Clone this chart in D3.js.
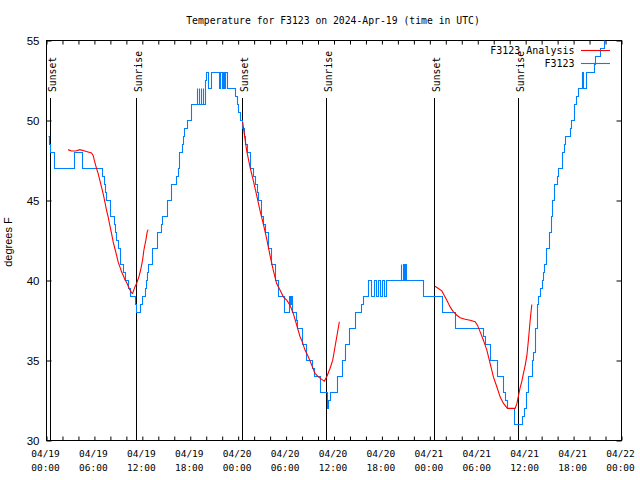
<!DOCTYPE html>
<html><head><meta charset="utf-8">
<script src="https://cdn.jsdelivr.net/npm/d3@7"></script>
<style>body{margin:0;background:#fff} svg{display:block}</style>
</head><body>
<script>
// ---------- data ----------
const chartTitle = "Temperature for F3123 on 2024-Apr-19 (time in UTC)";
const yAxisLabel = "degrees F";
const yTickValues = [30, 35, 40, 45, 50, 55];
const xTickHours = [0, 6, 12, 18, 24, 30, 36, 42, 48, 54, 60, 66, 72];
const xTickDates = ["04/19","04/19","04/19","04/19","04/20","04/20","04/20","04/20","04/21","04/21","04/21","04/21","04/22"];
const xTickTimes = ["00:00","06:00","12:00","18:00","00:00","06:00","12:00","18:00","00:00","06:00","12:00","18:00","00:00"];
const sunLabels = ["Sunset","Sunrise","Sunset","Sunrise","Sunset","Sunrise"];
const sunHours = [0.45, 11.15, 24.5, 35.05, 48.55, 59.05];
const legendNames = ["F3123 Analysis", "F3123"];

// station observations (hours since 04/19 00:00 UTC, degrees F), change points
const stationObs = [
[0.2,49],[0.35,48.5],[0.5,48],[0.95,47],[3.5,48],[4.42,47],[6.97,46.5],[7.15,46],[7.35,45.5],[7.5,45],
[8.0,44],[8.4,43.5],[8.6,43],[8.75,42.5],[8.9,42],[9.2,41],[9.55,40.5],[9.8,40],[10.2,39.5],[10.5,39],
[11.1,38.5],[11.2,38],[11.75,38.5],[12.0,39],[12.3,39.5],[12.45,40],[12.6,40.5],[12.73,41],[13.2,42],[13.86,43],
[14.3,43.5],[14.45,44],[15.15,45],[15.55,45.5],[15.65,46],[16.2,46.5],[16.5,47],[16.62,48],[17.0,48.5],[17.12,49],
[17.25,49.5],[17.55,50],[18.15,51],[18.8,52],[18.9,51],[19.05,52],[19.15,51],[19.3,52],[19.4,51],
[19.55,52],[19.65,51],[19.8,52.5],[19.95,53],[20.25,52],[20.6,53],
[21.65,52],[21.78,53],[21.95,52],[22.08,53],[22.25,52],[22.38,53],[22.6,52],
[23.6,51.5],[23.8,51],[24.0,50.5],[24.2,50],[24.5,49.5],[24.7,49],[24.85,48.5],
[25.05,48],[25.45,47],[25.9,46.5],[26.1,46],[26.3,45.5],[26.5,45],[26.9,44],[27.15,43.5],[27.35,43],[27.75,42],
[28.05,41],[28.6,40],[29.0,39],[29.75,38],[30.35,39],[30.5,38.5],[30.6,39],[30.8,38],[31.2,37.5],[31.4,37],
[31.95,36],[32.5,35],[33.3,34.5],[33.5,34],[34.25,33],[35.1,32],[35.3,32.5],[35.5,33],[36.35,34],[36.95,35],
[37.4,36],[37.9,37],[38.6,38],[39.35,38.5],[39.6,39],[40.3,40],[40.6,39],[41.0,40],[41.3,39],[41.55,40],
[41.8,39],[42.0,40],[42.3,39],[42.55,40],[44.35,41],[44.45,40],[44.65,41],[44.75,40],[44.95,41],[45.05,40],
[47.2,39],[49.5,38],[51.15,37],[54.7,36.5],[54.9,36],[55.5,35],[56.4,34],[57.1,33],[57.4,32.5],[57.7,32],
[58.6,31],[59.55,31.5],[59.75,32],[60.05,33],[60.35,34],[60.75,35],[60.95,35.5],[61.2,37],[61.4,38.5],[61.6,39],
[61.8,39.5],[62.0,40],[62.15,40.5],[62.3,41],[62.6,42],[62.9,43],[63.15,44],[63.3,45],[63.6,46],[63.9,46.5],
[64.1,47],[64.6,48],[64.75,48.5],[64.95,49],[65.5,49.5],[65.65,50],[66.05,51],[66.35,51.5],[66.6,52],[67.0,53],
[67.2,52],[67.5,53],[68.5,53.5],[68.7,54],[69.35,54.5],[69.75,55.5],[70.2,56]
];

// analysis curve, three overnight segments
const analysisNight1 = [
[2.71,48.18],[3.13,48.09],[3.67,48.09],[4.17,48.18],[4.8,48.09],[5.21,48.03],[5.64,47.97],[5.84,47.82],[6.05,47.4],
[6.27,46.99],[6.47,46.68],[6.68,46.26],[6.89,45.84],[7.09,45.43],[7.31,44.91],[7.52,44.39],[7.72,43.97],[7.93,43.45],
[8.15,42.93],[8.35,42.41],[8.56,42.0],[8.77,41.58],[8.97,41.16],[9.19,40.85],[9.4,40.54],[9.6,40.33],[9.81,40.06],
[10.1,39.81],[10.35,39.5],[10.65,39.23],[10.78,39.19],[11.07,39.6],[11.28,39.81],[11.57,40.23],[11.78,40.64],
[12.03,41.27],[12.19,41.89],[12.44,42.52],[12.61,43.04],[12.73,43.18]
];
const analysisNight2 = [
[24.56,49.9],[25.06,48.13],[25.48,47.1],[25.89,46.26],[26.32,45.32],[26.73,44.39],[27.14,43.56],[27.57,42.62],
[27.98,41.58],[28.4,40.64],[28.82,39.81],[29.24,39.4],[29.65,38.98],[30.08,38.77],[30.49,38.46],[30.9,37.94],
[31.33,37.21],[31.74,36.5],[31.95,36.27],[32.37,35.65],[32.78,35.23],[33.21,34.71],[33.62,34.19],[34.04,33.98],
[34.46,33.82],[34.79,33.71],[35.09,33.98],[35.5,34.5],[35.84,35.02],[36.13,35.86],[36.42,36.69],[36.67,37.42]
];
const analysisNight3 = [
[48.66,39.64],[49.07,39.5],[49.5,39.35],[49.79,39.08],[50.13,38.77],[50.54,38.35],[50.95,38.04],[51.38,37.83],
[51.79,37.67],[52.42,37.58],[53.04,37.52],[53.67,37.42],[53.96,37.21],[54.3,36.79],[54.71,36.27],[55.14,35.65],
[55.55,34.82],[55.96,33.98],[56.39,33.36],[56.8,32.73],[57.22,32.32],[57.72,32.01],[58.68,32.01],[58.9,32.3],
[59.1,32.8],[59.31,33.3],[59.52,33.7],[59.72,34.2],[59.94,34.7],[60.15,35.3],[60.35,36.3],[60.56,37.5],[60.77,38.5]
];

// ---------- drawing ----------
const W = 640, H = 480;
const L = 46.5, R = 621.5, T = 40.5, B = 440.5;
const BLUE = "#0080ff", RED = "#ff0000";
const MONO = "'DejaVu Sans Mono', monospace";
const SANS = "'Liberation Sans', Arial, sans-serif";

const x = d3.scaleLinear().domain([0, 72]).range([L, R]);
const y = d3.scaleLinear().domain([30, 55]).range([B, T]);

const svg = d3.select("body").append("svg").attr("width", W).attr("height", H);

svg.append("defs").append("clipPath").attr("id", "plot")
  .append("rect").attr("x", L).attr("y", T).attr("width", R - L).attr("height", B - T);

// title
svg.append("text").attr("x", 333).attr("y", 23.5).attr("text-anchor", "middle")
  .style("font-family", MONO).style("font-size", "9.75px").text(chartTitle);

// y label
svg.append("text").attr("transform", "translate(12,242) rotate(-90)").attr("text-anchor", "middle")
  .style("font-family", SANS).style("font-size", "11px").text(yAxisLabel);

// axes via d3.axis (ticks inward, mirrored)
const yLeft = d3.axisLeft(y).tickValues(yTickValues).tickSize(-5).tickPadding(7).tickFormat(d3.format("d"));
const gyl = svg.append("g").attr("transform", `translate(${L},0)`).call(yLeft);
gyl.select(".domain").remove();
gyl.selectAll("text").style("font-family", SANS).style("font-size", "11.5px").attr("fill", "#000");
gyl.selectAll("line").attr("stroke", "#000");

const yRight = d3.axisRight(y).tickValues(yTickValues).tickSize(-5).tickFormat("");
const gyr = svg.append("g").attr("transform", `translate(${R},0)`).call(yRight);
gyr.select(".domain").remove();
gyr.selectAll("line").attr("stroke", "#000");

const minorHours = d3.range(0, 73, 2);
const xBottom = d3.axisBottom(x).tickValues(minorHours).tickSize(-4).tickFormat("");
const gxb = svg.append("g").attr("transform", `translate(0,${B})`).call(xBottom);
gxb.select(".domain").remove();
gxb.selectAll("line").attr("stroke", "#000");
const xTop = d3.axisTop(x).tickValues(minorHours).tickSize(-4).tickFormat("");
const gxt = svg.append("g").attr("transform", `translate(0,${T})`).call(xTop);
gxt.select(".domain").remove();
gxt.selectAll("line").attr("stroke", "#000");

// x tick labels (two lines)
const xl = svg.append("g").style("font-family", MONO).style("font-size", "9.5px").attr("text-anchor", "middle");
xTickHours.forEach((h, i) => {
  const t = xl.append("text").attr("x", x(h) - 1);
  t.append("tspan").attr("x", x(h) - 1).attr("y", 457).text(xTickDates[i]);
  t.append("tspan").attr("x", x(h) - 1).attr("y", 471).text(xTickTimes[i]);
});

// frame
svg.append("rect").attr("x", L).attr("y", T).attr("width", R - L).attr("height", B - T)
  .attr("fill", "none").attr("stroke", "#000").attr("stroke-width", 1);

// sunrise / sunset markers
const sg = svg.append("g");
sunHours.forEach((h, i) => {
  const sx = Math.round(x(h)) + 0.5;
  sg.append("line").attr("x1", sx).attr("x2", sx).attr("y1", 98).attr("y2", B)
    .attr("stroke", "#000").attr("stroke-width", 1);
  sg.append("text").attr("transform", `translate(${sx + 1.5},92) rotate(-90)`)
    .attr("text-anchor", "start").attr("dominant-baseline", "central")
    .style("font-family", MONO).style("font-size", "9.75px").text(sunLabels[i]);
});

const plot = svg.append("g").attr("clip-path", "url(#plot)");

// station line
const stepLine = d3.line().x(d => Math.round(x(d[0])) + 0.5).y(d => y(d[1])).curve(d3.curveStepAfter);
plot.append("path").datum(stationObs).attr("d", stepLine)
  .attr("fill", "none").attr("stroke", BLUE).attr("stroke-width", 1.1);

// analysis lines
const line = d3.line().x(d => x(d[0])).y(d => y(d[1]));
[analysisNight1, analysisNight2, analysisNight3].forEach(seg => {
  plot.append("path").datum(seg).attr("d", line)
    .attr("fill", "none").attr("stroke", RED).attr("stroke-width", 1.1);
});

// legend
const lg = svg.append("g").style("font-family", MONO).style("font-size", "10px");
[[legendNames[0], RED, 50], [legendNames[1], BLUE, 63]].forEach(([name, col, ly]) => {
  lg.append("text").attr("x", 574.5).attr("y", ly + 3.8).attr("text-anchor", "end").text(name);
  lg.append("line").attr("x1", 581).attr("x2", 610).attr("y1", ly + 0.5).attr("y2", ly + 0.5)
    .attr("stroke", col).attr("stroke-width", 1.1);
});
</script>
</body></html>
